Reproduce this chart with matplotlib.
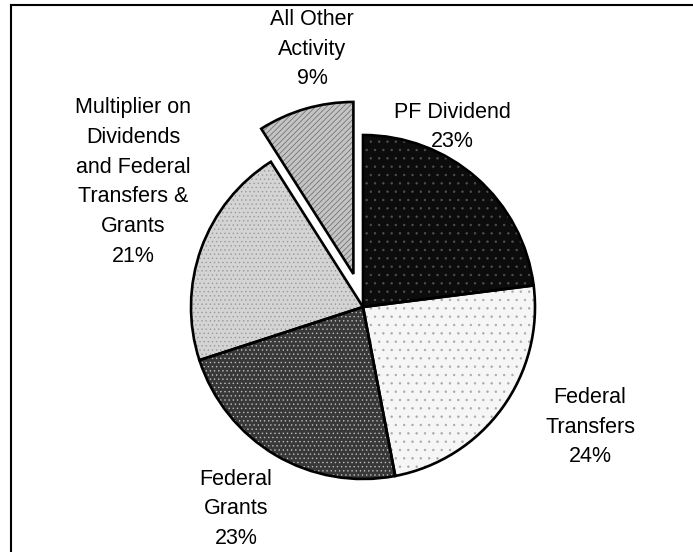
import matplotlib
matplotlib.use("Agg")
import matplotlib.pyplot as plt
from matplotlib.lines import Line2D

plt.rcParams["font.family"] = ["Liberation Sans", "DejaVu Sans"]
plt.rcParams["hatch.linewidth"] = 0.5

# data, clockwise from 12 o'clock
categories = ["PF Dividend", "Federal\nTransfers", "Federal\nGrants",
              "Multiplier on\nDividends\nand Federal\nTransfers &\nGrants",
              "All Other\nActivity"]
shares = [23, 24, 23, 21, 9]

faces   = ["#0c0c0c", "#f6f6f6", "#383838", "#d4d4d4", "#c4c4c4"]
hatches = ["..", "..", "....", "....", "//////"]
hatch_c = ["#505050", "#aaaaaa", "#bdbdbd", "#9a9a9a", "#666666"]
explode = [0, 0, 0, 0, 0.2]

# label centres in figure pixels (x, y from top)
label_px = [(452, 127), (590, 427), (236, 509), (133, 182), (312, 49)]

W, H = 693, 552
cx, cy, R = 363, 307, 172

fig = plt.figure(figsize=(W / 100, H / 100), dpi=100)
ax = fig.add_axes([0, 0, 1, 1])

# textured fill
wedges, _ = ax.pie(shares, startangle=90, counterclock=False, explode=explode,
                   radius=1, center=(0, 0), frame=True)
for w, fc, h, hc in zip(wedges, faces, hatches, hatch_c):
    w.set_facecolor(fc)
    w.set_hatch(h)
    w.set_edgecolor(hc)
    w.set_linewidth(0)

# black outlines on top
ax.pie(shares, startangle=90, counterclock=False, explode=explode,
       radius=1, center=(0, 0), frame=True,
       wedgeprops=dict(facecolor="none", edgecolor="black", linewidth=1.9))

ax.set_xlim(-cx / R, (W - cx) / R)
ax.set_ylim(-(H - cy) / R, cy / R)
ax.set_aspect("auto")
ax.axis("off")

for name, val, (px, py) in zip(categories, shares, label_px):
    ax.text((px - cx) / R, (cy - py) / R, f"{name}\n{val}%", ha="center", va="center",
            fontsize=15.5, linespacing=1.56, color="black")

# partial frame (top and left edges only)
fig.add_artist(Line2D([11 / W, 1], [1 - 5 / H, 1 - 5 / H], color="black", lw=1.5,
                      transform=fig.transFigure))
fig.add_artist(Line2D([11 / W, 11 / W], [0, 1 - 5 / H], color="black", lw=1.5,
                      transform=fig.transFigure))

fig.savefig("out.png", dpi=100, facecolor="white")
